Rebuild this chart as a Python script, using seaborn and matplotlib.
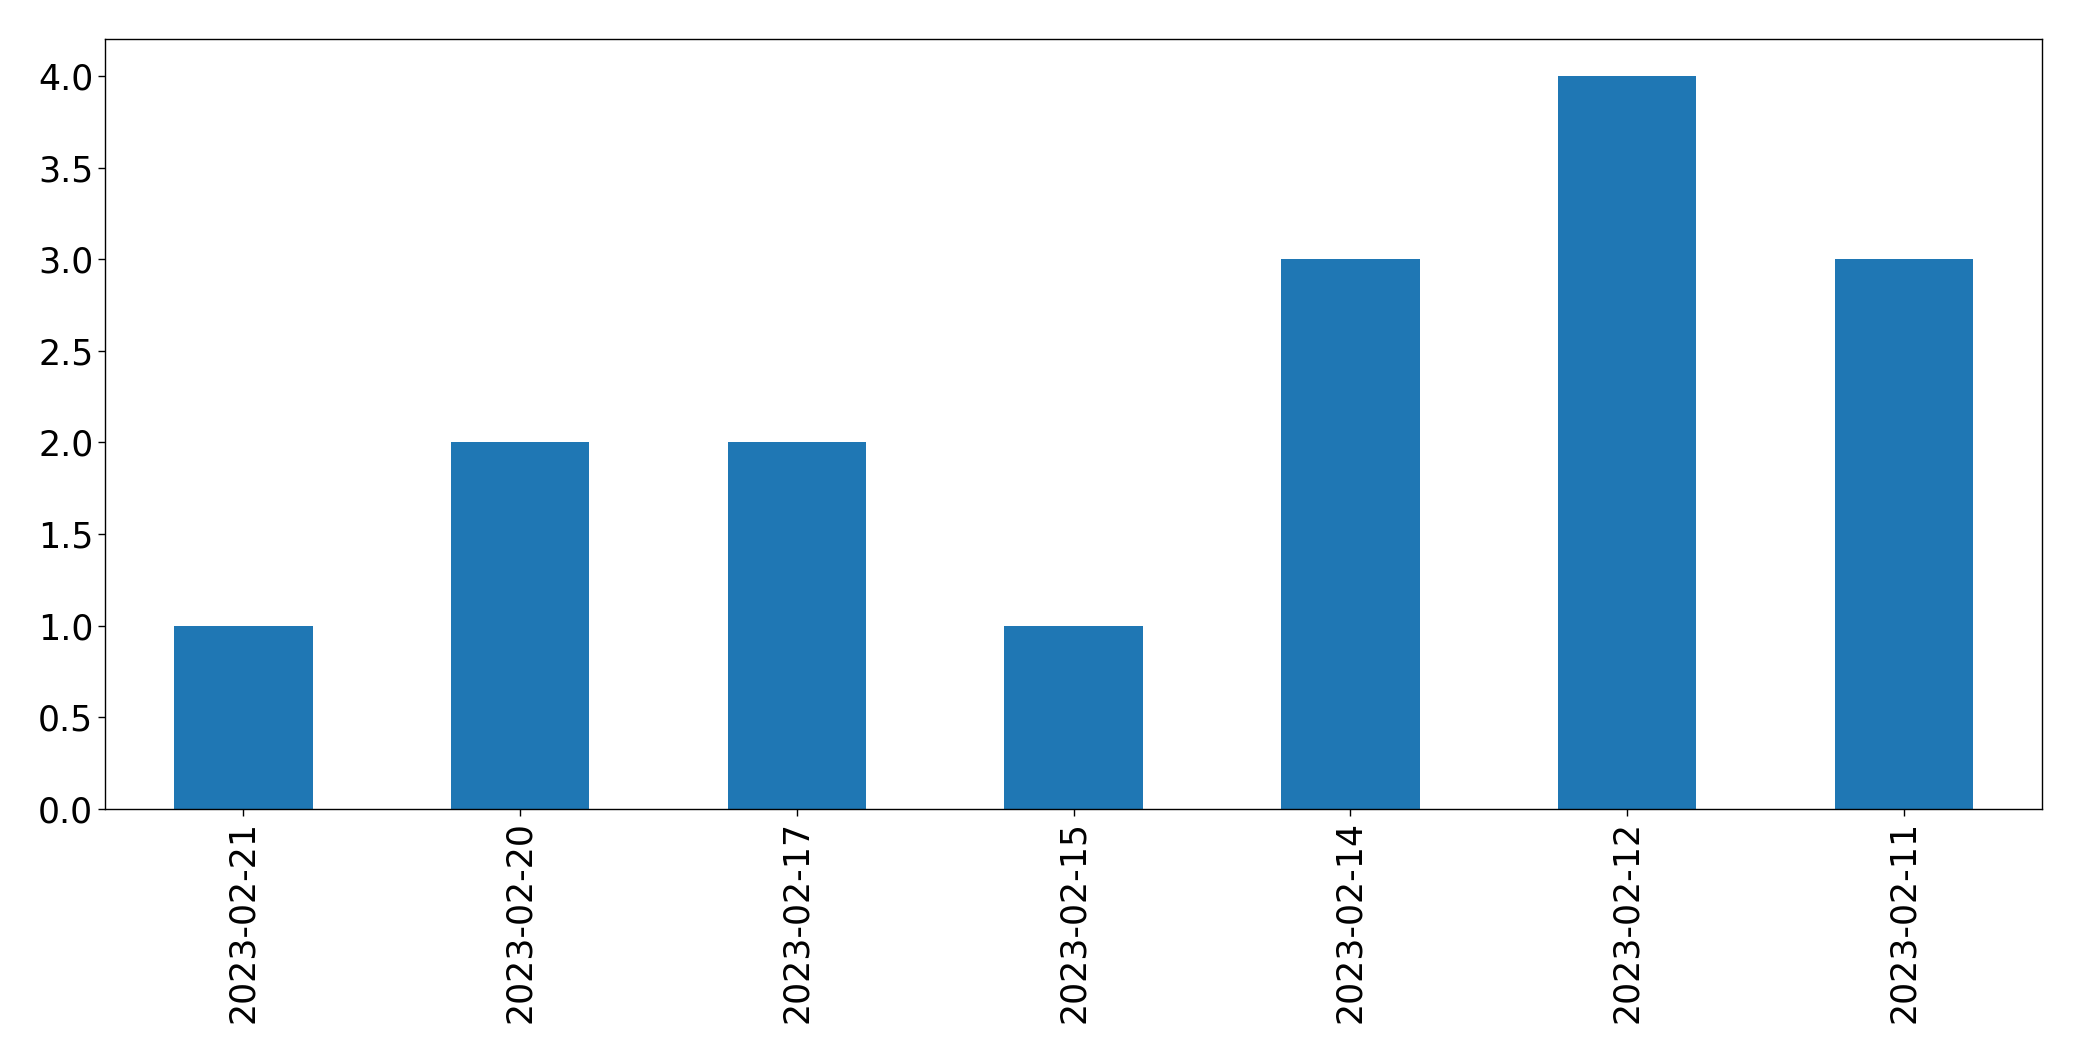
import matplotlib
matplotlib.use("Agg")
import matplotlib.pyplot as plt
import seaborn as sns
import pandas as pd

dates = ["2023-02-21", "2023-02-20", "2023-02-17", "2023-02-15",
         "2023-02-14", "2023-02-12", "2023-02-11"]
counts = [1, 2, 2, 1, 3, 4, 3]

df = pd.DataFrame({"date": dates, "count": counts})

sns.set_style("ticks", rc={"text.color": "black", "xtick.color": "black",
                           "ytick.color": "black", "axes.labelcolor": "black",
                           "axes.edgecolor": "black"})
plt.rcParams["font.family"] = ["DejaVu Sans"]

fig = plt.figure(figsize=(20.82, 10.61), dpi=100)
ax = fig.add_axes([0.0504, 0.2375, 0.9305, 0.7255])
sns.barplot(data=df, x="date", y="count", color="#1f77b4", saturation=1,
            width=0.5, ax=ax, order=dates, linewidth=0, edgecolor="none")
ax.set_xlim(-0.5, 6.5)
ax.set_ylim(0, 4.2)
ax.set_yticks([0, 0.5, 1.0, 1.5, 2.0, 2.5, 3.0, 3.5, 4.0])
ax.set_yticklabels(["0.0", "0.5", "1.0", "1.5", "2.0", "2.5", "3.0", "3.5", "4.0"])
ax.set_xlabel("")
ax.set_ylabel("")
ax.tick_params(axis="x", labelrotation=90, labelsize=25, length=4.9, width=1,
               color="black", labelcolor="black")
ax.tick_params(axis="y", labelsize=25, length=4.9, width=1,
               color="black", labelcolor="black")
for s in ax.spines.values():
    s.set_visible(True)
    s.set_color("black")
    s.set_linewidth(1)
fig.savefig("out.png", dpi=100)
